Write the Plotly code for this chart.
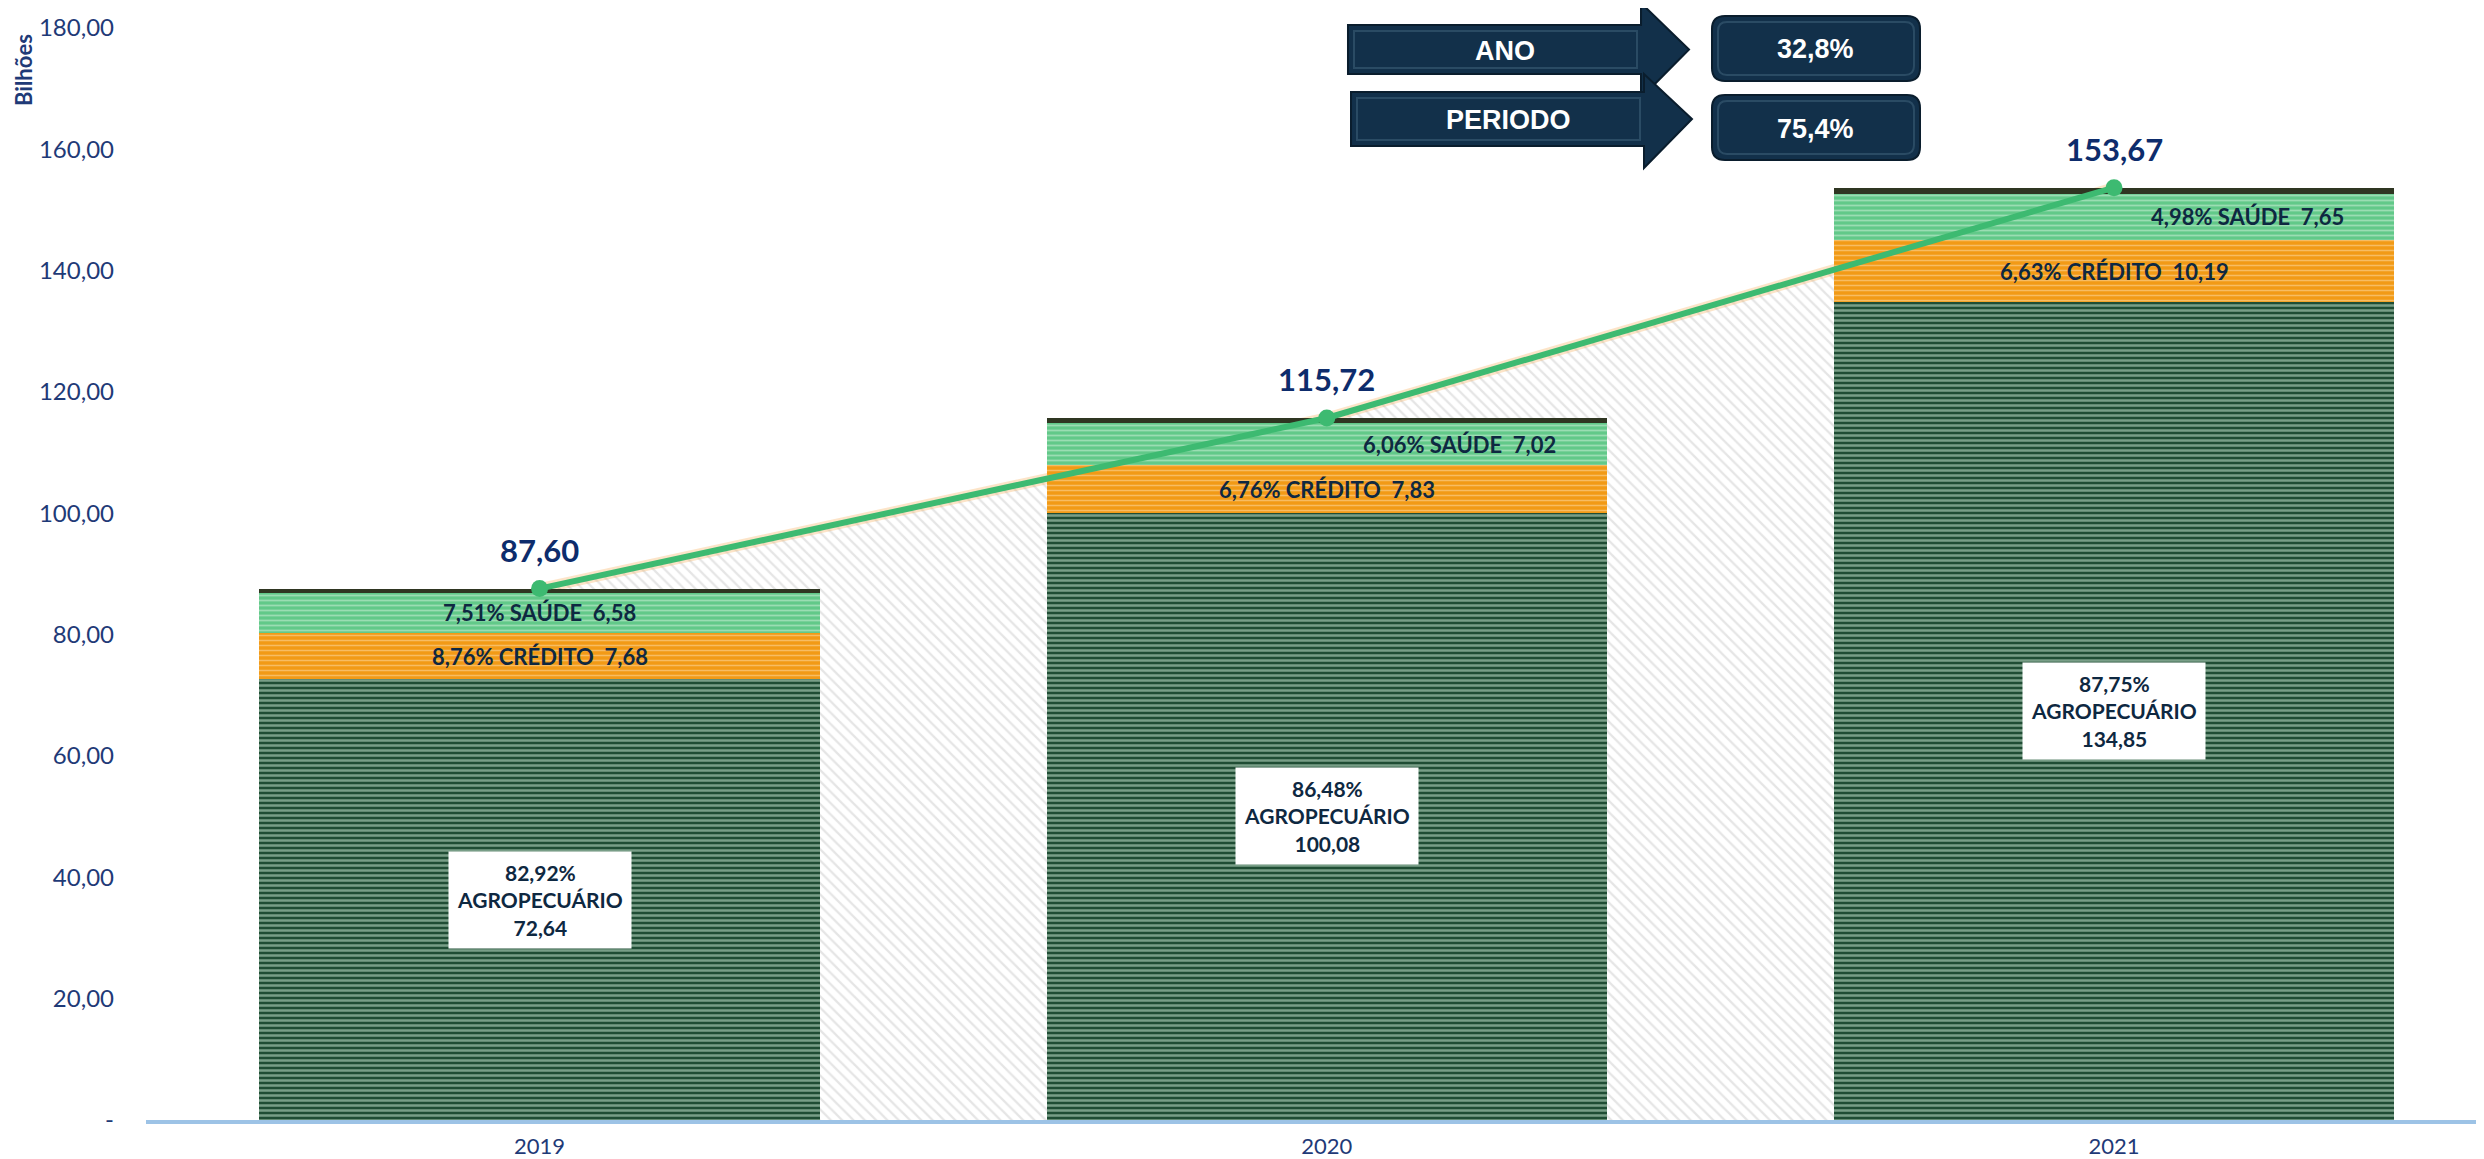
import plotly.graph_objects as go

# ---------------- data ----------------
years = ["2019", "2020", "2021"]
agro = [72.64, 100.08, 134.85]
credito = [7.68, 7.83, 10.19]
saude = [6.58, 7.02, 7.65]
outros = [0.70, 0.79, 0.98]
totals = [87.60, 115.72, 153.67]
agro_pct = [82.92, 86.48, 87.75]
credito_pct = [8.76, 6.76, 6.63]
saude_pct = [7.51, 6.06, 4.98]
y_ticks = [0, 20, 40, 60, 80, 100, 120, 140, 160, 180]
y_ticktext = ["-", "20,00", "40,00", "60,00", "80,00", "100,00", "120,00", "140,00", "160,00", "180,00"]
growth_labels = ["ANO", "PERIODO"]
growth_values = ["32,8%", "75,4%"]

# ---------------- layout constants ----------------
OFF = 8  # default page body margin
W, H = 2484 - OFF, 1159 - OFF
ML, MR, MT, MB = 138, 0, 20, 39
PW, PH = W - ML - MR, H - MT - MB
NAVY = "#1F3A77"
DARK = "#0E2841"
FONT = "Lato"


def br(v):
    return f"{v:.2f}".replace(".", ",")


def xp(sx):
    return (sx - OFF - ML) / PW


def yp(sy):
    return (H - MB - (sy - OFF)) / PH


fig = go.Figure()

# hatched area under the total line (base axes -> drawn first)
fig.add_trace(go.Scatter(
    x=years, y=totals, mode="lines", fill="tozeroy",
    line=dict(color="rgba(246,178,98,0.35)", width=11),
    fillcolor="rgba(255,255,255,0)",
    fillpattern=dict(shape="\\", fgcolor="#CCCCCC", bgcolor="rgba(255,255,255,0)", size=8, solidity=0.28),
    hoverinfo="skip", showlegend=False,
))

bar_w = 0.712
fig.add_trace(go.Bar(
    x=years, y=agro, width=bar_w, name="AGROPECUÁRIO", xaxis="x2", yaxis="y2",
    marker=dict(color="#1E4B32", line=dict(width=0),
                pattern=dict(shape="-", fgcolor="#D2EFDA", bgcolor="#1F4D34", size=5, solidity=0.5)),
))
fig.add_trace(go.Bar(
    x=years, y=credito, width=bar_w, name="CRÉDITO", xaxis="x2", yaxis="y2",
    marker=dict(color="#F29A16", line=dict(width=0),
                pattern=dict(shape="-", fgcolor="#FBDDB0", bgcolor="#F29A16", size=5, solidity=0.3)),
))
fig.add_trace(go.Bar(
    x=years, y=saude, width=bar_w, name="SAÚDE", xaxis="x2", yaxis="y2",
    marker=dict(color="#62C989", line=dict(width=0),
                pattern=dict(shape="-", fgcolor="#D3F2DD", bgcolor="#62C989", size=5, solidity=0.35)),
))
fig.add_trace(go.Bar(
    x=years, y=outros, width=bar_w, name="OUTROS", xaxis="x2", yaxis="y2",
    marker=dict(color="#2F3622", line=dict(width=0)),
))

# total line on a further overlay so it sits above the bars
fig.add_trace(go.Scatter(
    x=years, y=totals, mode="lines+markers", xaxis="x3", yaxis="y3",
    line=dict(color="#3DBA71", width=6),
    marker=dict(color="#3DBA71", size=17),
    showlegend=False,
))

annotations = []
for i, yr in enumerate(years):
    annotations.append(dict(
        x=i, y=totals[i], xref="x", yref="y", yshift=39, showarrow=False,
        xanchor="center", yanchor="middle",
        text=f"<b>{br(totals[i])}</b>", font=dict(family=FONT, size=31, color="#0D2C6C"),
    ))
    annotations.append(dict(
        x=i, y=agro[i] / 2, xref="x", yref="y", showarrow=False,
        xanchor="center", yanchor="middle",
        text=f"<b>{br(agro_pct[i])}%<br>AGROPECUÁRIO<br>{br(agro[i])}</b>",
        font=dict(family=FONT, size=21, color=DARK), bgcolor="white", borderpad=8,
    ))
    annotations.append(dict(
        x=i, y=agro[i] + credito[i] / 2, xref="x", yref="y", showarrow=False,
        xanchor="center", yanchor="middle",
        text=f"<b>{br(credito_pct[i])}% CRÉDITO\u00a0 {br(credito[i])}</b>",
        font=dict(family=FONT, size=22, color=DARK),
    ))
    annotations.append(dict(
        x=i, y=agro[i] + credito[i] + saude[i] / 2, xref="x", yref="y", showarrow=False,
        xanchor="center", yanchor="middle",
        xshift=0 if i == 0 else 133,
        text=f"<b>{br(saude_pct[i])}% SAÚDE\u00a0 {br(saude[i])}</b>",
        font=dict(family=FONT, size=22, color=DARK),
    ))

# axis title
annotations.append(dict(
    x=xp(24), y=yp(70), xref="paper", yref="paper", showarrow=False, textangle=-90,
    xanchor="center", yanchor="middle",
    text="<b>Bilhões</b>", font=dict(family=FONT, size=22, color=NAVY),
))

# growth arrows and boxes (decorative), in screen pixel positions
shapes = []
arrows = [((1348, 1641, 25, 74), (3, 98), 1689), ((1351, 1644, 92, 146), (74, 168), 1692)]
for (x0, x1, y0, y1), (h0, h1), tip in arrows:
    ym = (y0 + y1) / 2
    pts = [(x0, y0), (x1, y0), (x1, h0), (tip, ym), (x1, h1), (x1, y1), (x0, y1)]
    path = "M " + " L ".join(f"{xp(a):.5f},{yp(b):.5f}" for a, b in pts) + " Z"
    shapes.append(dict(type="path", xref="paper", yref="paper", path=path,
                       fillcolor="#12304A", line=dict(color="#0A1D2D", width=2), layer="above"))
    # subtle bevel highlight on the body
    inner = [(x0 + 6, y0 + 6), (x1 - 4, y0 + 6), (x1 - 4, y1 - 6), (x0 + 6, y1 - 6)]
    ipath = "M " + " L ".join(f"{xp(a):.5f},{yp(b):.5f}" for a, b in inner) + " Z"
    shapes.append(dict(type="path", xref="paper", yref="paper", path=ipath,
                       fillcolor="rgba(0,0,0,0)", line=dict(color="rgba(90,125,150,0.35)", width=2),
                       layer="above"))

boxes = [(1712, 1920, 16, 81), (1712, 1920, 95, 160)]


def rounded(x0, x1, y0, y1, r):
    P = lambda a, b: f"{xp(a):.5f},{yp(b):.5f}"
    return (f"M {P(x0 + r, y0)} L {P(x1 - r, y0)} Q {P(x1, y0)} {P(x1, y0 + r)} "
            f"L {P(x1, y1 - r)} Q {P(x1, y1)} {P(x1 - r, y1)} L {P(x0 + r, y1)} "
            f"Q {P(x0, y1)} {P(x0, y1 - r)} L {P(x0, y0 + r)} Q {P(x0, y0)} {P(x0 + r, y0)} Z")


for x0, x1, y0, y1 in boxes:
    shapes.append(dict(type="path", xref="paper", yref="paper", path=rounded(x0, x1, y0, y1, 13),
                       fillcolor="#12304A", line=dict(color="#0A1D2D", width=2), layer="above"))
    shapes.append(dict(type="path", xref="paper", yref="paper", path=rounded(x0 + 6, x1 - 6, y0 + 6, y1 - 6, 9),
                       fillcolor="rgba(0,0,0,0)", line=dict(color="rgba(90,125,150,0.35)", width=2),
                       layer="above"))

label_pos = [(1505, 51), (1508, 120)]
value_pos = [(1815, 49), (1815, 129)]
for i in range(2):
    annotations.append(dict(
        x=xp(label_pos[i][0]), y=yp(label_pos[i][1]), xref="paper", yref="paper", showarrow=False,
        xanchor="center", yanchor="middle",
        text=f"<b>{growth_labels[i]}</b>", font=dict(family="Liberation Sans", size=27, color="white"),
    ))
    annotations.append(dict(
        x=xp(value_pos[i][0]), y=yp(value_pos[i][1]), xref="paper", yref="paper", showarrow=False,
        xanchor="center", yanchor="middle",
        text=f"<b>{growth_values[i]}</b>", font=dict(family="Liberation Sans", size=27, color="white"),
    ))

x_range = [-0.5, 2.47]
hidden_x = dict(type="category", categoryarray=years, range=x_range, overlaying="x",
                visible=False, automargin=False)
hidden_y = dict(range=[0, 180], overlaying="y", visible=False, automargin=False)
fig.update_layout(
    width=W, height=H,
    margin=dict(l=ML, r=MR, t=MT, b=MB, autoexpand=False),
    paper_bgcolor="white", plot_bgcolor="white",
    barmode="stack", showlegend=False,
    font=dict(family=FONT, color=NAVY),
    xaxis=dict(type="category", categoryarray=years, range=x_range, automargin=False,
               showgrid=False, zeroline=False, showline=True, linecolor="#9DC3E6", linewidth=4,
               ticks="", tickfont=dict(family=FONT, size=22, color=NAVY), ticklabelstandoff=4),
    yaxis=dict(range=[0, 180], tickvals=y_ticks, ticktext=y_ticktext, automargin=False,
               showgrid=False, zeroline=False, showline=False, ticks="",
               tickfont=dict(family=FONT, size=24, color=NAVY), ticklabelstandoff=31),
    xaxis2=hidden_x, yaxis2=hidden_y,
    xaxis3=hidden_x, yaxis3=hidden_y,
    annotations=annotations,
    shapes=shapes,
)

fig.write_html("out.html")
